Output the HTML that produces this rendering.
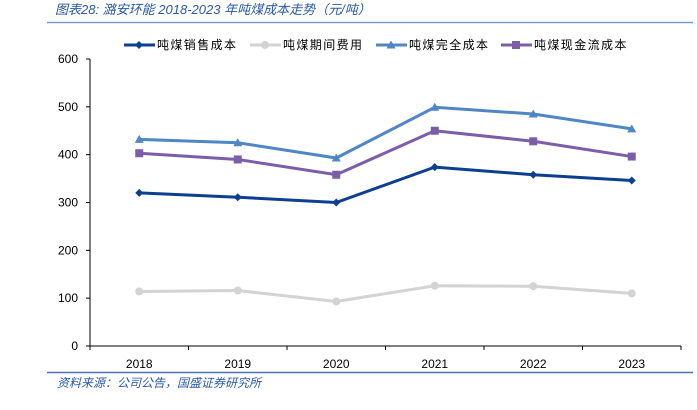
<!DOCTYPE html>
<html><head><meta charset="utf-8"><style>
body{margin:0;width:697px;height:410px;background:#fff;overflow:hidden;font-family:"Liberation Sans","Noto Sans CJK SC",sans-serif}
</style></head><body>
<svg width="697" height="410" style="position:absolute;left:0;top:0">
<text x="55" y="14" font-size="13" font-style="italic" fill="#2a5aa8" font-family="Liberation Sans,Noto Sans CJK SC,sans-serif">图表28:  潞安环能 2018-2023 年吨煤成本走势（元/吨）</text>
<line x1="47" y1="22.5" x2="693" y2="22.5" stroke="#7f9bc8" stroke-width="1.5"/>
<line x1="47" y1="372.5" x2="693" y2="372.5" stroke="#4a72b8" stroke-width="1.5"/>
<text x="57" y="387" font-size="12" font-style="italic" fill="#2a5aa8">资料来源：公司公告，国盛证券研究所</text>
<g id="legend"></g>
<g id="axes"></g><g id="series"></g>
</svg>
<script>
const categories=["2018","2019","2020","2021","2022","2023"];
const yTicks=[0,100,200,300,400,500,600];
const seriesNames=["吨煤销售成本","吨煤期间费用","吨煤完全成本","吨煤现金流成本"];
const salesCost=[320,311,300,374,358,346];
const periodExpense=[114,116,93,126,125,110];
const fullCost=[432,425,393,499,485,454];
const cashCost=[403,390,358,450,428,396];
const colors=["#0d3f91","#d3d3d3","#4f86c6","#7b5ea7"];
const markers=["diamond","circle","triangle","square"];
const NS="http://www.w3.org/2000/svg";
const X0=90,X1=681,Y0=346,Y1=59;
const band=(X1-X0)/categories.length;
const x=i=>X0+band*(i+0.5);
const y=v=>Y0-(v/600)*(Y0-Y1);
function mk(t,a,p){const e=document.createElementNS(NS,t);for(const k in a)e.setAttribute(k,a[k]);p.appendChild(e);return e;}
const ax=document.getElementById('axes');
const yl=mk('line',{x1:X0,y1:Y1,x2:X0,y2:Y0,stroke:'#000'},ax);


const xl=mk('line',{x1:X0,y1:Y0,x2:X1,y2:Y0,stroke:'#000'},ax);


yTicks.forEach(v=>{
 mk('line',{x1:X0-4,y1:y(v),x2:X0,y2:y(v),stroke:'#000'},ax);
 const t=mk('text',{x:X0-12,y:y(v)+4,'font-size':12,'text-anchor':'end'},ax);t.textContent=v;
 
 
});
for(let i=0;i<=categories.length;i++)mk('line',{x1:X0+band*i,y1:Y0,x2:X0+band*i,y2:Y0+4,stroke:'#000'},ax);
categories.forEach((c,i)=>{const t=mk('text',{x:x(i),y:Y0+22,'font-size':12,'text-anchor':'middle'},ax);t.textContent=c;
 
 });
function marker(type,cx,cy,col,p){
 if(type==='diamond')return mk('polygon',{points:`${cx},${cy-4} ${cx+4},${cy} ${cx},${cy+4} ${cx-4},${cy}`,fill:col},p);
 if(type==='circle')return mk('circle',{cx,cy,r:4,fill:col},p);
 if(type==='triangle')return mk('polygon',{points:`${cx},${cy-4.5} ${cx+4.5},${cy+3.5} ${cx-4.5},${cy+3.5}`,fill:col},p);
 return mk('rect',{x:cx-4,y:cy-4,width:8,height:8,fill:col},p);
}
const sg=document.getElementById('series');
[salesCost,periodExpense,fullCost,cashCost].forEach((d,s)=>{
 const g=mk('g',{},sg);
 
 
 mk('polyline',{points:d.map((v,i)=>x(i)+','+y(v)).join(' '),fill:'none',stroke:colors[s],'stroke-width':3},g);
 d.forEach((v,i)=>{const m=marker(markers[s],x(i),y(v),colors[s],g);
  
  });
});
const lg=document.getElementById('legend');
const lx=[124,250,376,501];
seriesNames.forEach((n,s)=>{
 const g=mk('g',{},lg);
 
 
 mk('line',{x1:lx[s],y1:45,x2:lx[s]+31,y2:45,stroke:colors[s],'stroke-width':3},g);
 marker(markers[s],lx[s]+15,45,colors[s],g);
 const t=mk('text',{x:lx[s]+33,y:49,'font-size':12,'letter-spacing':1.4},g);t.textContent=n;
});
</script>
</body></html>
